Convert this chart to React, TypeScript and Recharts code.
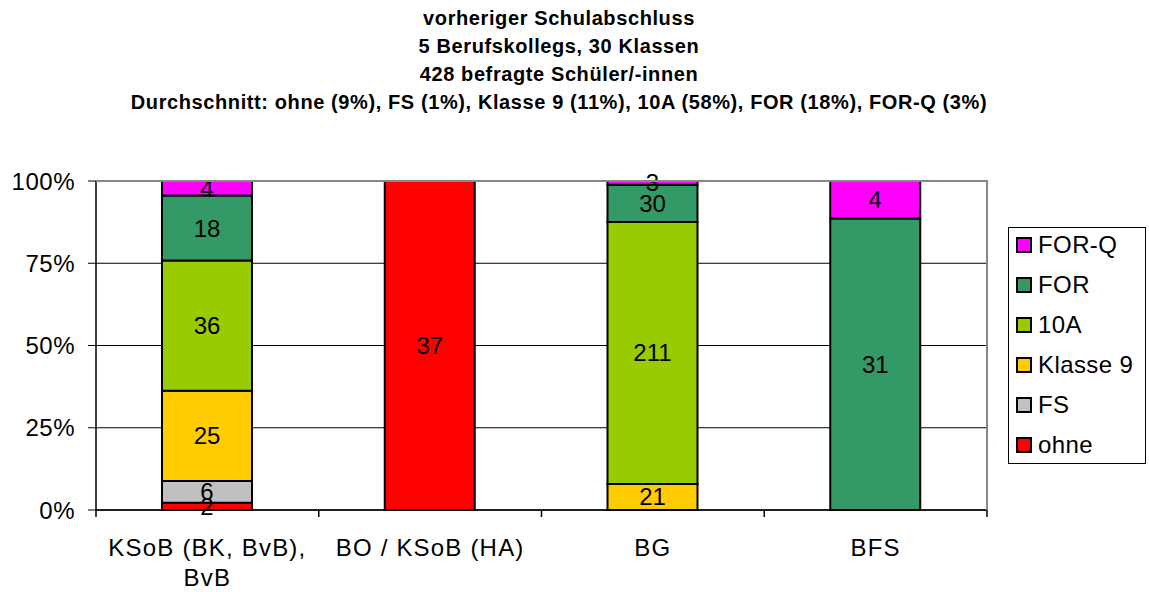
import React from 'react';
import { BarChart, Bar, XAxis, YAxis, CartesianGrid, LabelList } from 'recharts';

// categories and counts per school type
const categories = ['KSoB (BK, BvB), BvB', 'BO / KSoB (HA)', 'BG', 'BFS'];
const ohne = [2, 37, 0, 0];
const fs = [6, 0, 0, 0];
const klasse9 = [25, 0, 21, 0];
const zehnA = [36, 0, 211, 0];
const forAbschluss = [18, 0, 30, 31];
const forQ = [4, 0, 3, 4];

const titleLines = [
  'vorheriger Schulabschluss',
  '5 Berufskollegs, 30 Klassen',
  '428 befragte Schüler/-innen',
  'Durchschnitt: ohne (9%), FS (1%), Klasse 9 (11%), 10A (58%), FOR (18%), FOR-Q (3%)',
];
const yTicks = [0, 0.25, 0.5, 0.75, 1];

const series = [
  { key: 'ohne', name: 'ohne', color: '#FF0000', values: ohne },
  { key: 'fs', name: 'FS', color: '#C0C0C0', values: fs },
  { key: 'klasse9', name: 'Klasse 9', color: '#FFCC00', values: klasse9 },
  { key: 'zehnA', name: '10A', color: '#99CC00', values: zehnA },
  { key: 'for', name: 'FOR', color: '#339966', values: forAbschluss },
  { key: 'forQ', name: 'FOR-Q', color: '#FF00FF', values: forQ },
];

const data = categories.map((name, i) => {
  const row: Record<string, any> = { name };
  series.forEach(s => { row[s.key] = s.values[i]; });
  return row;
});

const FONT = '"Liberation Sans", Arial, sans-serif';

let measureCtx: CanvasRenderingContext2D | null = null;
const textWidth = (s: string) => {
  if (!measureCtx) measureCtx = document.createElement('canvas').getContext('2d');
  if (!measureCtx) return s.length * 12;
  measureCtx.font = `24px ${FONT}`;
  return measureCtx.measureText(s).width + s.length * 1.2;
};

// greedy word wrap, like Excel does for long category names
const wrap = (label: string, maxWidth: number) => {
  const lines: string[] = [];
  let cur = '';
  label.split(' ').forEach(w => {
    const next = cur ? `${cur} ${w}` : w;
    if (cur && textWidth(next) > maxWidth) {
      lines.push(cur);
      cur = w;
    } else {
      cur = next;
    }
  });
  if (cur) lines.push(cur);
  return lines;
};

// category label plus tick marks between the categories
const CategoryTick = (props: any) => {
  const { x, y, payload, index, visibleTicksCount } = props;
  const half = payload && payload.offset ? payload.offset : 111.4;
  const isLast = index === (visibleTicksCount ?? categories.length) - 1;
  const lines = wrap(String(payload.value), 205);
  return (
    <g>
      <line x1={x - half} y1={y} x2={x - half} y2={y + 7} stroke="#000" strokeWidth={1.5} />
      {isLast && <line x1={x + half} y1={y} x2={x + half} y2={y + 7} stroke="#000" strokeWidth={1.5} />}
      <text
        x={x}
        y={y + 46}
        textAnchor="middle"
        fontSize={24}
        fontFamily={FONT}
        letterSpacing={1.2}
        fill="#000"
      >
        {lines.map((l, i) => (
          <tspan key={i} x={x} dy={i === 0 ? 0 : 30}>
            {l}
          </tspan>
        ))}
      </text>
    </g>
  );
};

const LegendBox = () => (
  <div
    style={{
      position: 'absolute',
      left: 1008,
      top: 227,
      width: 138,
      height: 237,
      border: '1px solid #000',
      boxSizing: 'border-box',
      fontFamily: FONT,
      fontSize: 24,
      background: '#fff',
    }}
  >
    <div style={{ position: 'relative', top: -3, left: 7 }}>
      {[...series].reverse().map(s => (
        <div key={s.key} style={{ display: 'flex', alignItems: 'center', height: 40 }}>
          <span
            style={{
              display: 'inline-block',
              width: 16,
              height: 16,
              boxSizing: 'border-box',
              background: s.color,
              border: '2px solid #000',
              marginRight: 6,
            }}
          />
          <span style={{ letterSpacing: 0.4 }}>{s.name}</span>
        </div>
      ))}
    </div>
  </div>
);

export default function App() {
  return (
    <div
      style={{
        position: 'fixed',
        left: 0,
        top: 0,
        width: 1149,
        height: 592,
        overflow: 'hidden',
        background: '#fff',
      }}
    >
      <div
        style={{
          position: 'absolute',
          top: 4,
          left: 0,
          width: 1118,
          textAlign: 'center',
          fontFamily: FONT,
          fontWeight: 'bold',
          fontSize: 20,
          letterSpacing: 0.6,
          lineHeight: '28px',
        }}
      >
        {titleLines.map(t => (
          <div key={t}>{t}</div>
        ))}
      </div>
      <BarChart
        width={1149}
        height={592}
        data={data}
        stackOffset="expand"
        margin={{ top: 181, right: 162, bottom: 0, left: 0 }}
        barSize={90}
      >
        <CartesianGrid vertical={false} stroke="#000" strokeWidth={1} />
        <XAxis
          dataKey="name"
          type="category"
          axisLine={{ stroke: '#000', strokeWidth: 1.5 }}
          tickLine={false}
          tickSize={0}
          tickMargin={0}
          interval={0}
          height={82}
          tick={<CategoryTick />}
        />
        <YAxis
          domain={[0, 1]}
          ticks={yTicks}
          width={96}
          tickSize={8}
          tickMargin={13}
          tickFormatter={(v: number) => `${Math.round(v * 100)}%`}
          tick={{ fontSize: 24, fontFamily: FONT, fill: '#000', letterSpacing: 0.5 }}
          axisLine={{ stroke: '#000', strokeWidth: 1.5 }}
          tickLine={{ stroke: '#000' }}
        />
        {series.map(s => (
          <Bar
            key={s.key}
            dataKey={s.key}
            name={s.name}
            stackId="a"
            fill={s.color}
            stroke="#000"
            strokeWidth={2}
            isAnimationActive={false}
          >
            <LabelList
              dataKey={s.key}
              position="center"
              fill="#000"
              fontSize={24}
              fontFamily={FONT}
              formatter={(v: any) => (v ? v : '')}
            />
          </Bar>
        ))}
      </BarChart>
      <div
        style={{
          position: 'absolute',
          left: 96,
          top: 180,
          width: 892,
          height: 330,
          borderTop: '2px solid #888',
          borderRight: '2px solid #888',
          boxSizing: 'border-box',
          pointerEvents: 'none',
        }}
      />
      <LegendBox />
    </div>
  );
}
